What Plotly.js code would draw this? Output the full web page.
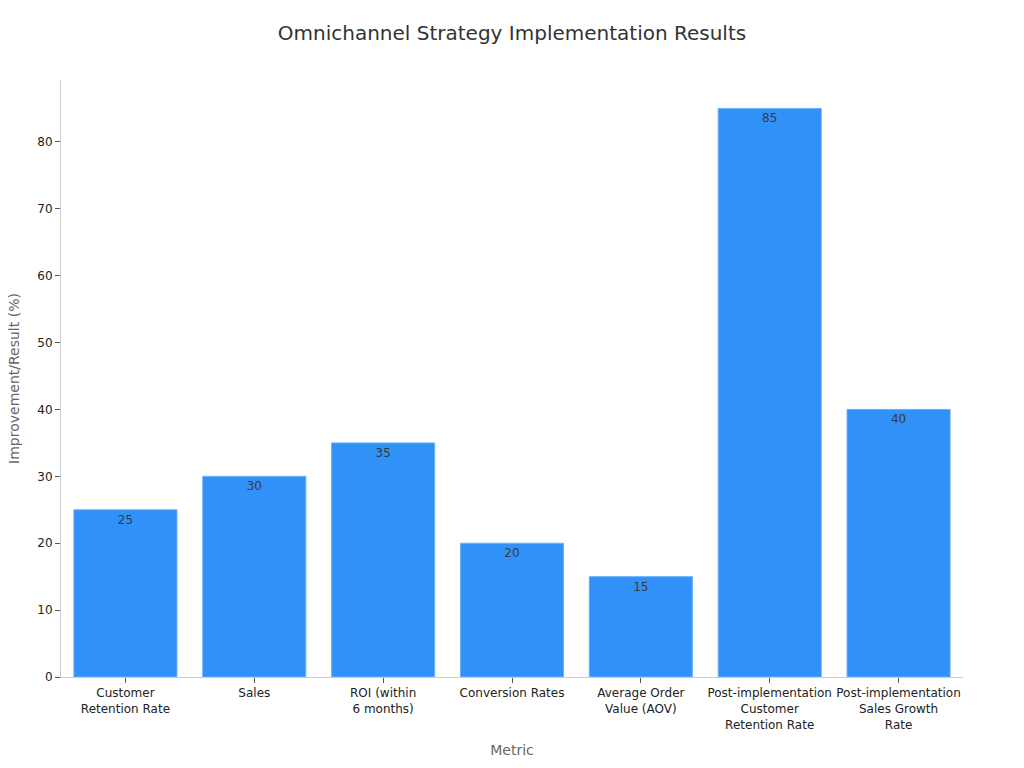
<!DOCTYPE html>
<html><head><meta charset="utf-8">
<script src="https://cdn.plot.ly/plotly-3.0.1.min.js"></script>
<style>body{margin:0;padding:0;background:#fff}</style>
</head><body>
<div id="chart" style="width:1024px;height:768px"></div>
<script>
const categories = ["Customer<br>Retention Rate", "Sales", "ROI (within<br>6 months)", "Conversion Rates", "Average Order<br>Value (AOV)", "Post-implementation<br>Customer<br>Retention Rate", "Post-implementation<br>Sales Growth<br>Rate"];
const values = [25, 30, 35, 20, 15, 85, 40];

const trace = {
  type: 'bar',
  x: categories,
  y: values,
  text: values.map(String),
  textposition: 'inside',
  insidetextanchor: 'end',
  textangle: 0,
  textfont: {family: 'DejaVu Sans', size: 12, color: '#3a3a3a'},
  marker: {color: '#3092F8', line: {color: '#6AB0F8', width: 1}},
  hoverinfo: 'x+y'
};

const layout = {
  width: 1024, height: 768,
  margin: {l: 61, r: 61, t: 80, b: 91},
  paper_bgcolor: '#ffffff', plot_bgcolor: '#ffffff',
  font: {family: 'DejaVu Sans', size: 12, color: '#222222'},
  title: {text: 'Omnichannel Strategy Implementation Results', x: 0.5, xanchor: 'center', y: 0.957, yanchor: 'middle', font: {family: 'DejaVu Sans', size: 20, color: '#333333'}},
  bargap: 0.2,
  showlegend: false,
  xaxis: {
    title: {text: 'Metric', font: {size: 14, color: '#666666'}, standoff: 14},
    showline: true, linecolor: '#cccccc', linewidth: 1,
    ticks: 'outside', ticklen: 5, tickcolor: '#555555',
    tickfont: {size: 12, color: '#222222'},
    showgrid: false, automargin: false
  },
  yaxis: {
    title: {text: 'Improvement/Result (%)', font: {size: 14, color: '#666666'}, standoff: 14},
    range: [0, 89.25],
    dtick: 10,
    showline: true, linecolor: '#cccccc', linewidth: 1,
    ticks: 'outside', ticklen: 5, tickcolor: '#555555',
    tickfont: {size: 12, color: '#222222'},
    showgrid: false, zeroline: false, automargin: false
  }
};

Plotly.newPlot('chart', [trace], layout, {displayModeBar: false, responsive: false});
</script>
</body></html>
